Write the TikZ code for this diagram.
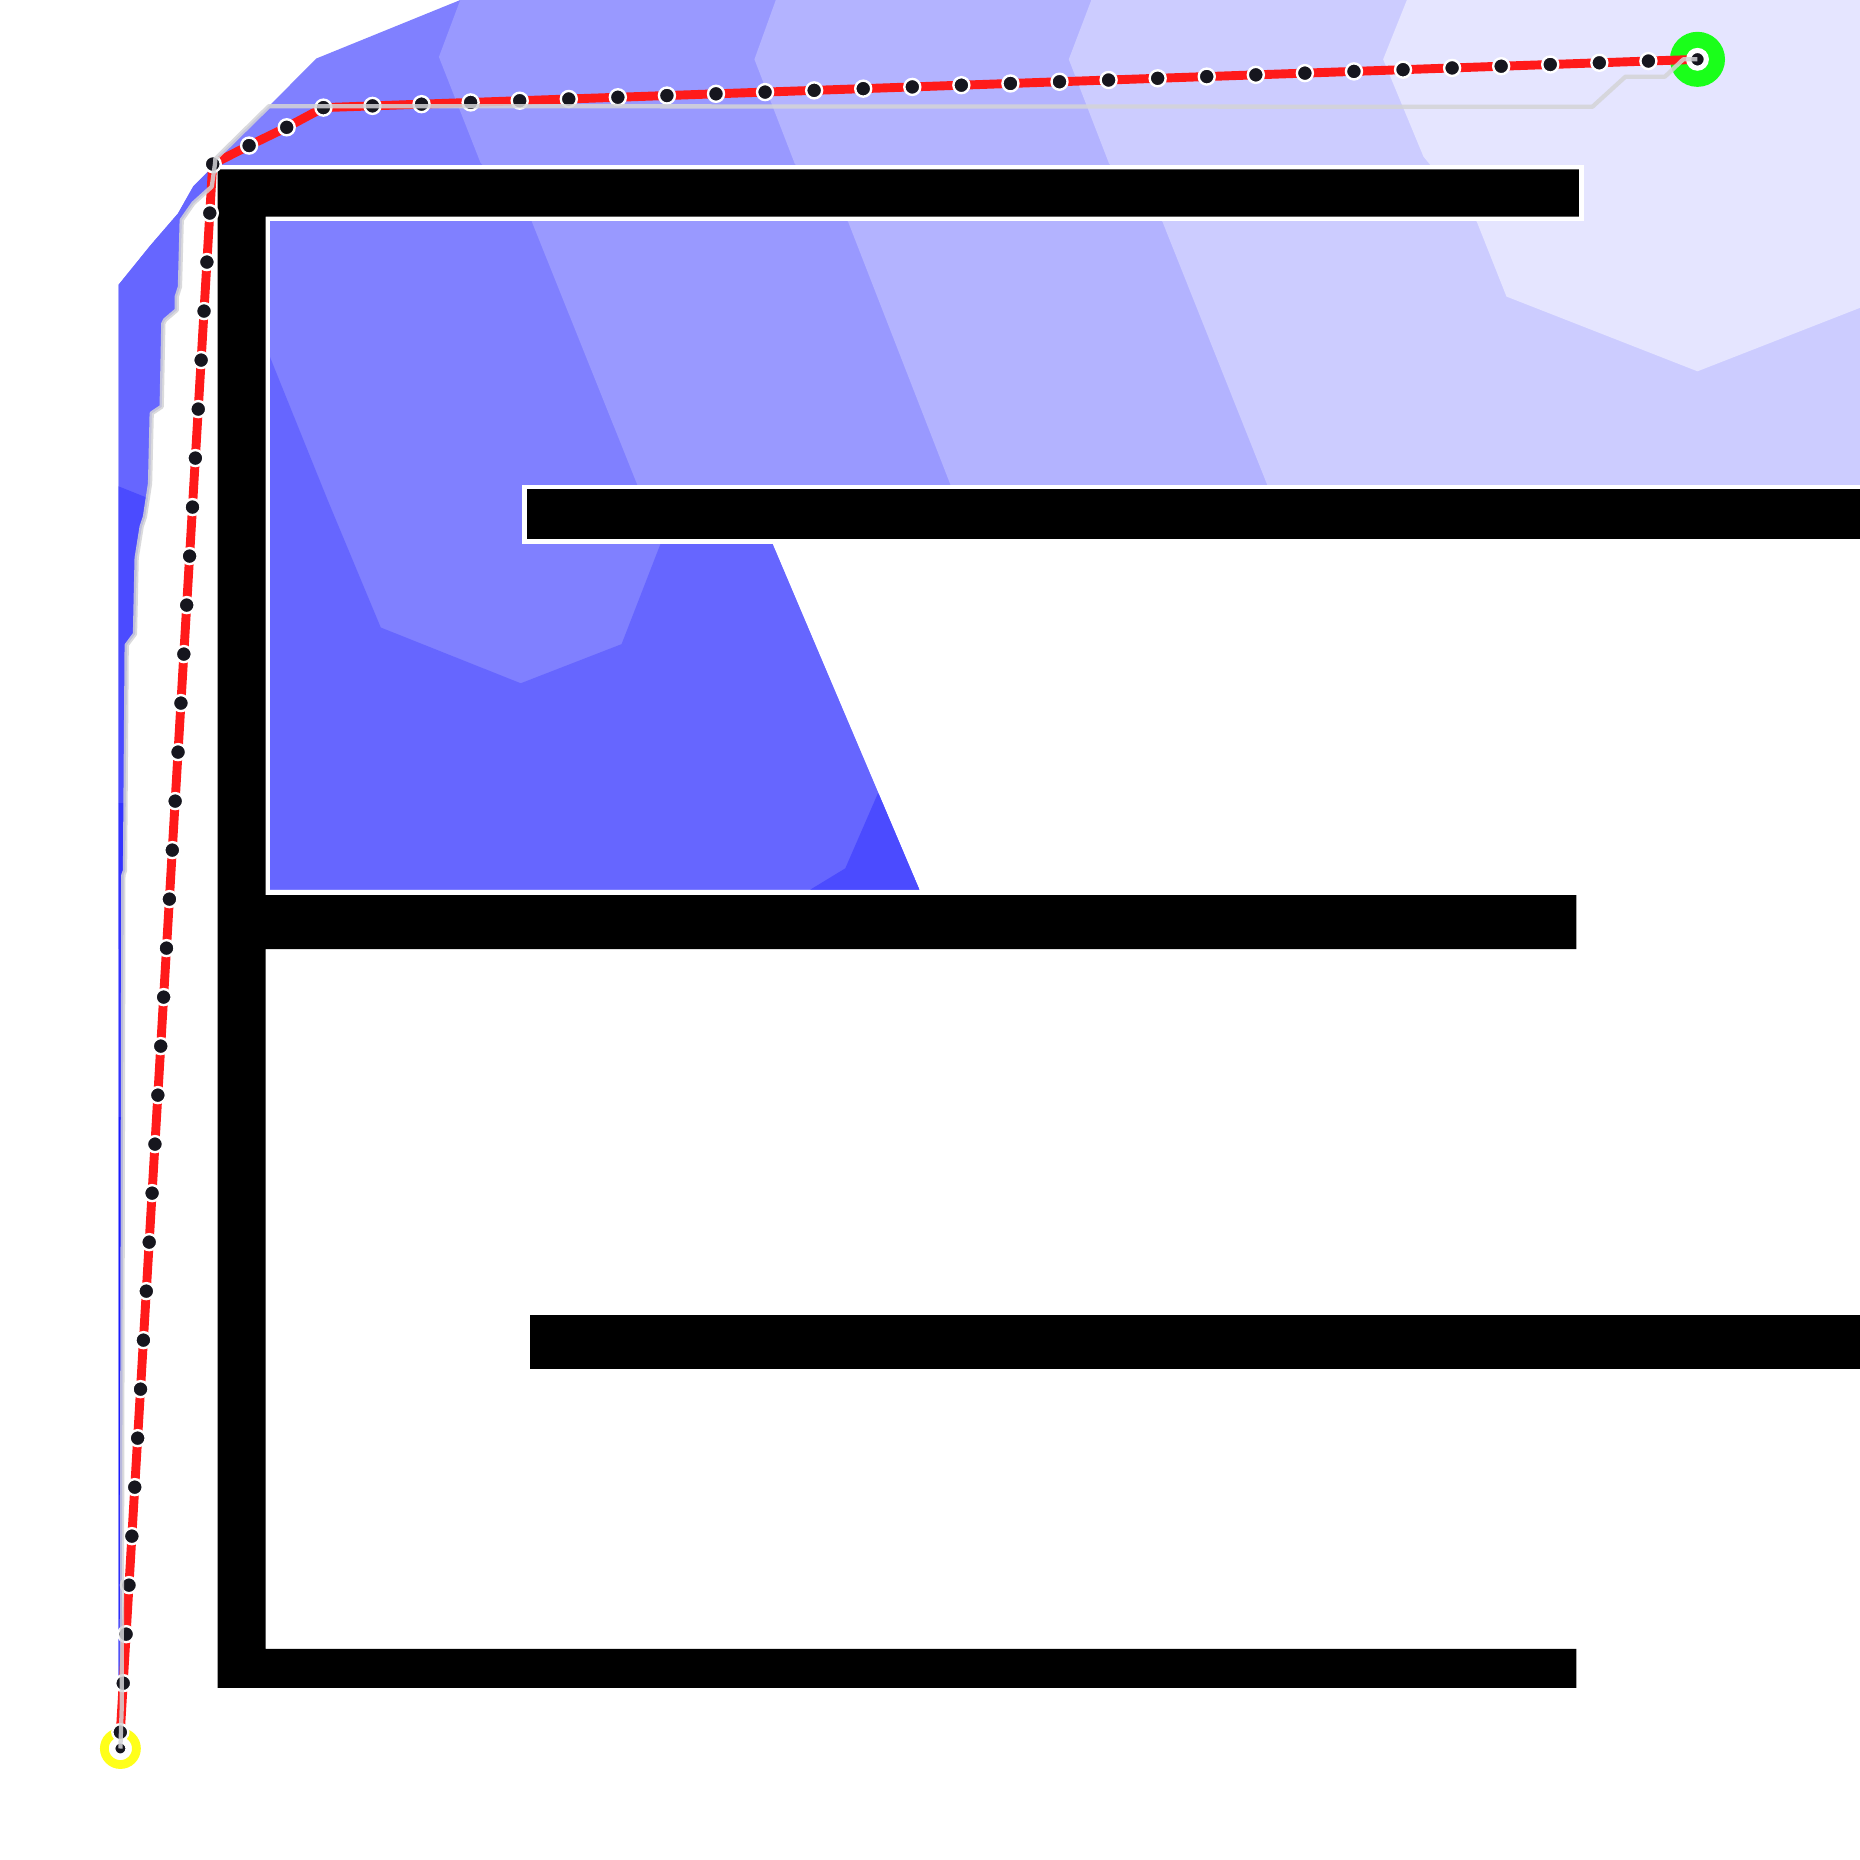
\documentclass[tikz,border=0pt]{standalone}
\usepackage{xcolor}
\usepackage{tikz}
\usetikzlibrary{calc}
\definecolor{cellAc}{RGB}{26,26,255}
\definecolor{cellAb}{RGB}{51,51,255}
\definecolor{cellA}{RGB}{75,75,255}
\definecolor{cellB}{RGB}{102,102,255}
\definecolor{cellC}{RGB}{128,128,255}
\definecolor{cellD}{RGB}{153,153,255}
\definecolor{cellE}{RGB}{179,179,255}
\definecolor{cellF}{RGB}{204,204,255}
\definecolor{cellG}{RGB}{229,229,255}
\definecolor{routered}{RGB}{255,26,26}
\definecolor{rawgray}{RGB}{212,212,215}
\definecolor{wpdark}{RGB}{22,22,30}
\definecolor{goalgreen}{RGB}{26,255,26}
\definecolor{startyellow}{RGB}{255,255,26}

\begin{document}
\begin{tikzpicture}[x=0.01cm, y=-0.01cm,
    obst/.style={fill=black, preaction={draw=white, line width=0.8mm}},
    route/.style={draw=routered, line width=0.75mm, line join=round},
    rawpath/.style={draw=rawgray, line width=0.36mm, opacity=0.85, line join=round},
    wp/.style={circle, fill=wpdark, draw=white, line width=0.2mm, minimum size=1.35mm, inner sep=0pt},
    goalmark/.style={circle, fill=goalgreen, minimum size=4.64mm, inner sep=0pt},
    startmark/.style={circle, draw=startyellow, fill=white, line width=0.74mm, minimum size=2.7mm, inner sep=0pt}]
    \useasboundingbox (0,0) rectangle (1568,1568);
    \fill[white] (0,0) rectangle (1568,1568);
    % cost field
    \begin{scope}
        \clip (388,0) -- (1600,0) -- (1600,433) -- (640.4,433) -- (775,750) -- (210,750) -- (210,140) -- (181.3,139)
            -- (178.5,157.4) -- (163,171.4) -- (153.2,185.5) -- (151.7,241.7) -- (149,250.1) -- (149,261.4)
            -- (139.1,269.8) -- (137.7,272.6) -- (136.3,342.8) -- (127.9,348.4) -- (126.5,407.5) -- (122.2,435.6)
            -- (119.4,444.1) -- (115.2,470.4) -- (113.8,534.4) -- (106.8,543.8) -- (105.4,733.9) -- (104,737.6)
            -- (103.4,1043) -- (102.6,1413) -- (100,1413) -- (100,240) -- (126.7,207) -- (150,180) -- (163,157)
            -- (177,143) -- (181.5,134) -- (226.7,89.5) -- (266.7,49.3) -- cycle;
        \fill[cellC] (0,0) rectangle (1600,800);
        \fill[cellB] (0,136) -- (183,136) -- (183,1600) -- (0,1600) -- cycle;
        \fill[cellB] (210,257.6) -- (228,302) -- (276,421) -- (321,529) -- (439,576) -- (524,543) -- (557,458)
            -- (567,430) -- (700,430) -- (800,760) -- (200,760) -- cycle;
        \fill[cellA] (90,406) -- (135,424) -- (135,677) -- (90,677) -- cycle;
        \fill[cellAb] (90,677) rectangle (135,942);
        \fill[cellAc] (90,942) rectangle (135,1420);
        \fill[cellA] (740,669) -- (712.6,732) -- (666.6,760) -- (820,760) -- (820,669) -- cycle;
        \fill[cellD] (388,0) -- (1600,0) -- (1600,433) -- (547,433) -- (537,408) -- (448,186) -- (405,137) -- (370,48) -- cycle;
        \fill[cellE] (654,0) -- (1600,0) -- (1600,433) -- (811,433) -- (801,408) -- (715,187) -- (670,138) -- (636,50) -- cycle;
        \fill[cellF] (920,0) -- (1600,0) -- (1600,433) -- (1078,433) -- (1068,408) -- (980,187) -- (935,138) -- (901,50) -- cycle;
        \fill[cellG] (1186,0) -- (1600,0) -- (1600,247) -- (1431,313) -- (1270,250) -- (1245,187) -- (1200,132) -- (1166,50) -- cycle;
    \end{scope}
    % obstacles
    \path[obst] (183.5,142.7) -- (1331,142.7) -- (1331,182.7) -- (224,182.7) -- (224,754.5) -- (1329,754.5)
        -- (1329,800) -- (224,800) -- (224,1390) -- (1329,1390) -- (1329,1422.8) -- (183.5,1422.8) -- cycle;
    \path[obst] (444,412.5) rectangle (1580,454.5);
    \path[obst] (447,1108.6) rectangle (1580,1154.3);
    % waypoints
    \foreach \k in {0,...,28} \coordinate (t\k) at ({1431-41.37*\k},{50+1.4536*\k});
    \coordinate (c1) at (241.7,107.3);
    \coordinate (c2) at (210,122.7);
    \coordinate (c3) at (179.3,138.3);
    \foreach \m in {1,...,32} \coordinate (v\m) at ({179.3-2.433*\m},{138.3+41.31*\m});
    \coordinate (s) at (101.5,1474);
    % start and goal
    \node[goalmark] (goal) at (t0) {};
    \node[startmark] (start) at (s) {};
    % smoothed route
    \draw[route] (t0) -- (t28) -- (c1) -- (c2) -- (c3) -- (v32);
    \foreach \k in {1,...,28} \node[wp] (dt\k) at (t\k) {};
    \foreach \i in {1,2,3} \node[wp] (dc\i) at (c\i) {};
    \foreach \m in {1,...,32} \node[wp] (dv\m) at (v\m) {};
    \node[wp, line width=0.43mm, minimum size=1.49mm] (goaldot) at (t0) {};
    \node[wp, line width=0.16mm, minimum size=1.0mm] (startdot) at (s) {};
    % raw grid path
    \draw[rawpath] (t0) -- (1419,50) -- (1403.6,64.6) -- (1370.3,64.6) -- (1342.4,90) -- (226.7,89.5) -- (181.5,134)
        -- (181.3,137.7) -- (178.5,157.4) -- (163,171.4) -- (153.2,185.5) -- (151.7,241.7) -- (149,250.1) -- (149,261.4)
        -- (139.1,269.8) -- (137.7,272.6) -- (136.3,342.8) -- (127.9,348.4) -- (126.5,407.5) -- (122.2,435.6)
        -- (119.4,444.1) -- (115.2,470.4) -- (113.8,534.4) -- (106.8,543.8) -- (105.4,733.9) -- (104,737.6)
        -- (103.4,1043) -- (102.6,1440) -- (s);
\end{tikzpicture}
\end{document}
